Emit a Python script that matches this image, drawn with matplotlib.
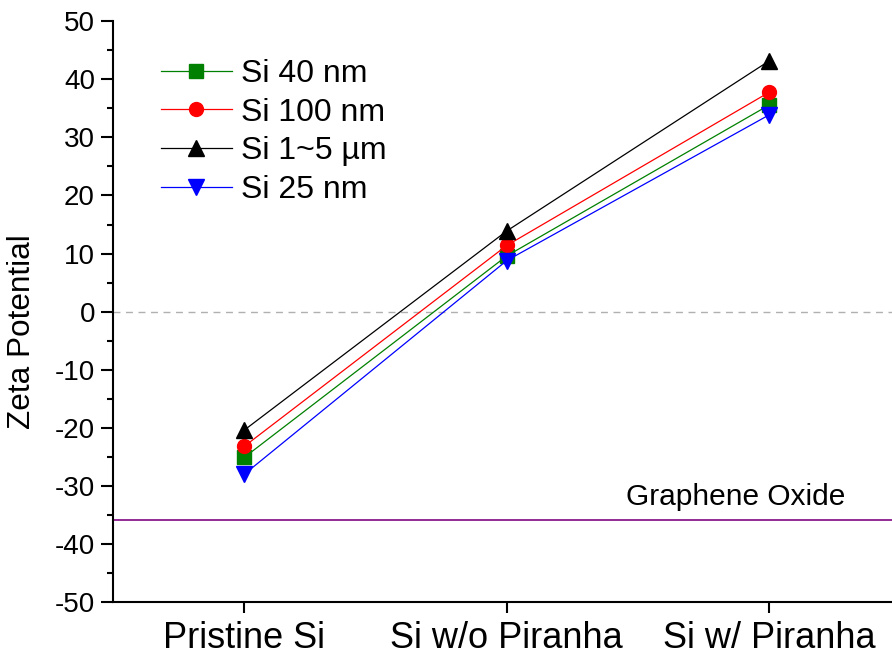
import numpy as np
import matplotlib.pyplot as plt

plt.rcParams['font.family'] = ['Liberation Sans', 'DejaVu Sans']
plt.rcParams['axes.unicode_minus'] = False

categories = ['Pristine Si', 'Si w/o Piranha', 'Si w/ Piranha']
si_40nm = [-25.1, 9.6, 35.6]
si_100nm = [-23.2, 11.4, 37.8]
si_1_5um = [-20.4, 13.9, 43.2]
si_25nm = [-28.0, 8.8, 33.9]
graphene_oxide = -35.8

x = np.arange(len(categories))

fig = plt.figure(figsize=(8.92, 6.54), dpi=100)
ax = fig.add_axes([0.1267, 0.0795, 0.883, 0.888])

ax.axhline(0, color='#b0b0b0', lw=1, ls=(0, (5, 4)), zorder=1)
ax.axhline(graphene_oxide, color='#8b1a8b', lw=1.3, zorder=1)
ax.text(1.455, graphene_oxide + 1.5, 'Graphene Oxide', fontsize=21.5, va='bottom', ha='left')

ms = 10
ax.plot(x, si_40nm, color='green', marker='s', ms=ms, lw=0.9, label='Si 40 nm', zorder=3)
ax.plot(x, si_100nm, color='red', marker='o', ms=ms, lw=0.9, label='Si 100 nm', zorder=3)
ax.plot(x, si_1_5um, color='black', marker='^', ms=ms + 1, lw=0.9, label='Si 1~5 µm', zorder=3)
ax.plot(x, si_25nm, color='blue', marker='v', ms=ms + 1, lw=0.9, label='Si 25 nm', zorder=3)

ax.set_xlim(-0.5, 2.5)
ax.set_ylim(-50, 50)
ax.set_yticks(np.arange(-50, 51, 10))
ax.set_yticks(np.arange(-45, 50, 10), minor=True)
ax.set_xticks(x)
ax.set_xticklabels(categories, fontsize=26)
ax.tick_params(axis='y', labelsize=20, direction='out', length=9, width=1.5, pad=4)
ax.tick_params(axis='y', which='minor', direction='out', length=4, width=1.5)
ax.tick_params(axis='x', direction='out', length=8, width=1.5, pad=6)
ax.set_ylabel('Zeta Potential', fontsize=22.7)
ax.yaxis.set_label_coords(-0.097, 0.465)

for s in ['top', 'right']:
    ax.spines[s].set_visible(False)
for s in ['left', 'bottom']:
    ax.spines[s].set_linewidth(1.5)

leg = ax.legend(loc='upper left', bbox_to_anchor=(0.045, 0.957), frameon=False,
                fontsize=23, handlelength=2.2, handletextpad=0.3, labelspacing=0.27,
                borderaxespad=0)

fig.savefig('out.png', dpi=100)
